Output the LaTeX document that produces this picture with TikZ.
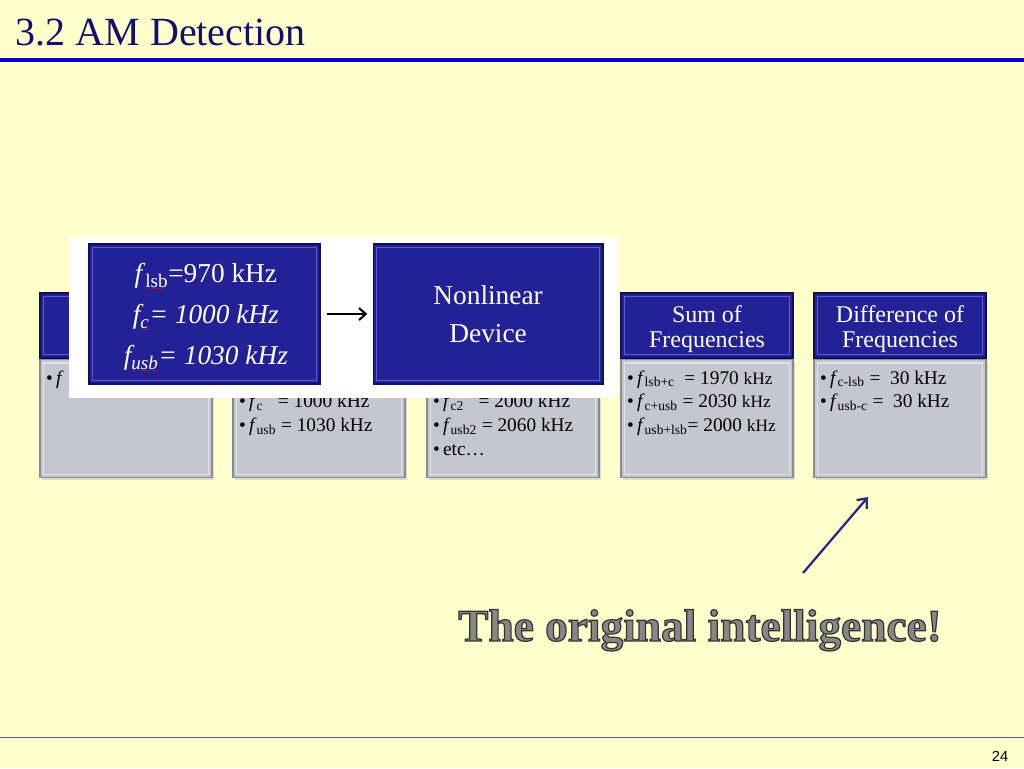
\documentclass[tikz,border=0pt]{standalone}
\usepackage{fontspec}
\setmainfont{Liberation Serif}
\newfontfamily\pagefont{Liberation Sans}
\usetikzlibrary{positioning,calc,arrows.meta,shadows}

\definecolor{slidebg}{RGB}{255,255,204}
\definecolor{titlenavy}{RGB}{16,16,110}
\definecolor{rulebl}{RGB}{0,0,210}
\definecolor{hdrblue}{RGB}{34,34,150}
\definecolor{hdrdark}{RGB}{14,14,90}
\definecolor{hdrlight}{RGB}{92,92,205}
\definecolor{bodygrey}{RGB}{198,198,208}
\definecolor{bodyedge}{RGB}{140,140,152}
\definecolor{bodylight}{RGB}{226,226,234}
\definecolor{arrownavy}{RGB}{40,40,140}
\definecolor{intelgray}{RGB}{135,135,135}

\newcommand{\fq}[1]{\textit{f}\textsubscript{#1}}
\newcommand{\skhz}{{\fontsize{13}{15}\selectfont kHz}}
% red spell-check dots under a word
\newcommand{\squig}[1]{\leavevmode\setbox0\hbox{#1}%
  \rlap{\color{red!85!black}\hbox to \wd0{\leaders\hbox to 1.3pt{\hss\rule[-1.6pt]{0.7pt}{0.7pt}\hss}\hfil}}\box0}
% outlined text (fill + stroke)
\newcommand{\outlined}[1]{\special{pdf:code 2 Tr 0.9 w 0.2 0.2 0.2 RG}#1\special{pdf:code 0 Tr}}

\begin{document}
\begin{tikzpicture}[x=0.75pt,y=-0.75pt,
    hdr/.style={rectangle,fill=hdrblue,draw=hdrdark,line width=1.2pt,
      minimum width=129pt,minimum height=48.75pt,inner sep=0pt,
      path picture={\draw[hdrlight,line width=0.9pt]
        ([shift={(2.5pt,-2.5pt)}]path picture bounding box.north west) rectangle
        ([shift={(-2.5pt,2.5pt)}]path picture bounding box.south east);}},
    htitle/.style={inner sep=0pt,text=white,align=center,font=\fontsize{18}{18.9}\selectfont},
    body/.style={rectangle,fill=bodygrey,draw=bodyedge,line width=1.2pt,
      minimum width=129pt,minimum height=88.5pt,inner sep=0pt,
      drop shadow={shadow xshift=1.5pt,shadow yshift=-1.5pt,fill=black!25},
      path picture={\draw[bodylight,line width=0.9pt]
        ([shift={(2.5pt,-2.5pt)}]path picture bounding box.north west) rectangle
        ([shift={(-2.5pt,2.5pt)}]path picture bounding box.south east);}},
    blist/.style={anchor=north west,inner sep=0pt,align=left,
      font=\fontsize{14.5}{17.8}\selectfont},
    blk/.style={hdr,minimum width=173pt,minimum height=105pt},
    blktext/.style={htitle,font=\fontsize{20.5}{30.75}\selectfont},
    arr/.style={-{Straight Barb[length=5pt,width=9pt]},line width=1.6pt}]

\useasboundingbox[fill=slidebg] (0,0) rectangle (1024,768);

% title and rules
\node[anchor=base west,text=titlenavy,font=\fontsize{30}{36}\selectfont] (title) at (11,45) {3.2 AM Detection};
\draw[rulebl,line width=2.6pt] (0,60) -- (1024,60);
\draw[titlenavy!70,line width=0.7pt] (0,737) -- (1024,737);
\node[anchor=base east,font=\pagefont\fontsize{11}{13}\selectfont] (pgno) at (1013,761) {24};

% columns
\node[hdr] (h1) at (126,325.5) {};
\node[body,below=0pt of h1] (b1) {};
\node[hdr] (h2) at (319,325.5) {};
\node[body,below=0pt of h2] (b2) {};
\node[hdr] (h3) at (513,325.5) {};
\node[body,below=0pt of h3] (b3) {};
\node[hdr] (h4) at (707,325.5) {};
\node[body,below=0pt of h4] (b4) {};
\node[hdr] (h5) at (900,325.5) {};
\node[body,below=0pt of h5] (b5) {};
\node[htitle] (s4) at ([yshift=-2.6pt]h4.center) {Sum of\\Frequencies};
\node[htitle] (s5) at ([yshift=-2.6pt]h5.center) {Difference of\\Frequencies};

\node[blist] (t1) at ([shift={(5pt,-8.5pt)}]b1.north west)
  {\textbullet\,\textit{f}};
\node[blist] (t2) at ([shift={(5pt,-8.5pt)}]b2.north west)
  {\textbullet\,\fq{lsb} = 970 kHz\\
   \textbullet\,\fq{c}\ \ \ = 1000 kHz\\
   \textbullet\,\fq{usb} = 1030 kHz};
\node[blist] (t3) at ([shift={(5pt,-8.5pt)}]b3.north west)
  {\textbullet\,\fq{lsb2} = 1940 kHz\\
   \textbullet\,\fq{c2}\ \ \ = 2000 kHz\\
   \textbullet\,\fq{usb2} = 2060 kHz\\
   \textbullet\,etc\dots};
\node[blist] (t4) at ([shift={(5pt,-8.5pt)}]b4.north west)
  {\textbullet\,\fq{lsb+c}\ \ = 1970 \skhz\\
   \textbullet\,\fq{c+usb} = 2030 \skhz\\
   \textbullet\,\fq{usb+lsb}= 2000 \skhz};
\node[blist] (t5) at ([shift={(5pt,-8.5pt)}]b5.north west)
  {\textbullet\,\fq{c-lsb}\ =\ \ 30 kHz\\
   \textbullet\,\fq{usb-c} =\ \ 30 kHz};

% pasted picture on top
\fill[white] (69,237) rectangle (617,398);
\node[blk] (inbox) at (204.5,314) {};
\node[blk,minimum width=172pt,right=39pt of inbox] (nld) {};
\node[blktext] (intext) at ([shift={(1pt,-2.6pt)}]inbox.center)
  {\textit{f}\textsubscript{\squig{lsb}}=970 kHz\\
   \textit{f\textsubscript{\squig{c}}= 1000 kHz}\\
   \textit{f\textsubscript{\squig{usb}}= 1030 kHz}};
\node[blktext,font=\fontsize{20.5}{28.5}\selectfont] (nldtext) at (nld.center) {Nonlinear\\Device};
\draw[arr,shorten <=5pt,shorten >=4pt] (inbox.east) -- (nld.west);

% pointer to the difference terms
\coordinate (armfoot) at (803,573);
\coordinate (armtip) at (868,497);
\draw[arr,arrownavy,line width=1.7pt,-{Straight Barb[length=6pt,width=10pt]}] (armfoot) -- (armtip);

\node[anchor=base,text=intelgray,font=\fontsize{34}{40}\selectfont\bfseries] (intel) at (700,641) {\outlined{The original intelligence!}};

\end{tikzpicture}
\end{document}
